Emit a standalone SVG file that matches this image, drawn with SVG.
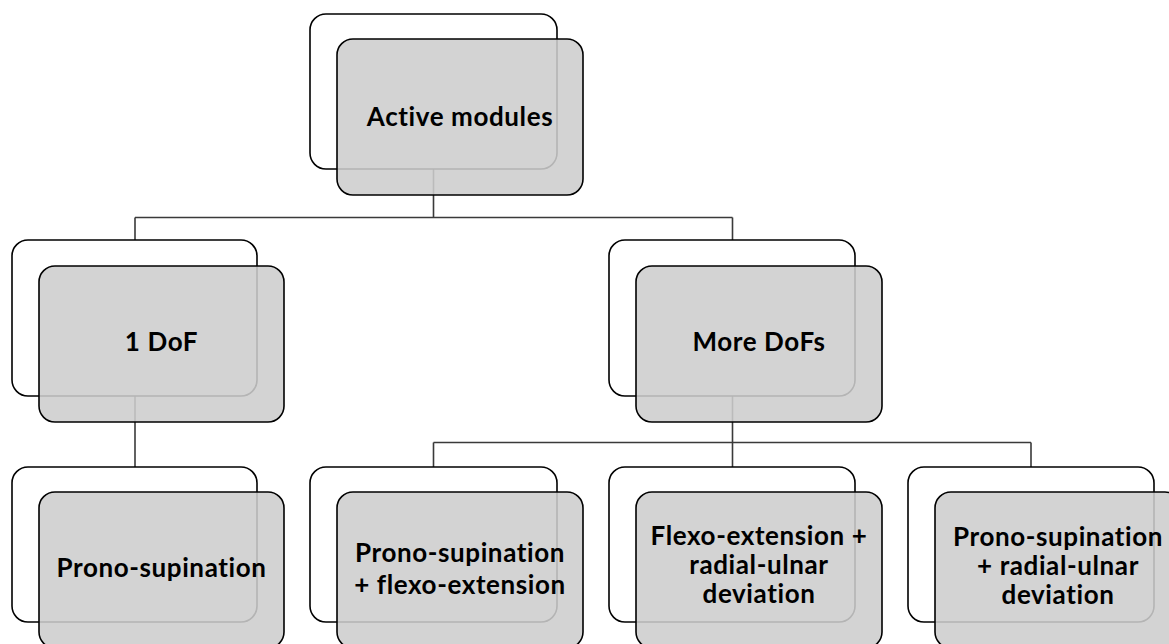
<svg xmlns="http://www.w3.org/2000/svg" width="1169" height="644" viewBox="0 0 1169 644">
<style>
.back{fill:#ffffff;stroke:#000000;stroke-width:1.6}
.front{fill:#cdcdcd;fill-opacity:0.88;stroke:#000000;stroke-width:1.6}
.conn{fill:none;stroke:#3a3a3a;stroke-width:1.6}
.lbl{font-family:Lato,"Liberation Sans",sans-serif;font-weight:bold;font-size:26px;letter-spacing:0.6px;fill:#000000;text-anchor:middle}
</style>
<rect width="1169" height="644" fill="#ffffff"/>
<g id="connectors">
<path class="conn" d="M433.5,169 V217.5 M135,217.5 H732.5 M135,217.5 V240 M732.5,217.5 V240"/>
<path class="conn" d="M135,396 V467"/>
<path class="conn" d="M732.5,396 V442.5 M433.5,442.5 H1031 M433.5,442.5 V467 M732.5,442.5 V467 M1031,442.5 V467"/>
</g>
<g id="node-active-modules">
<rect class="back" x="310" y="14" width="247" height="155" rx="16"/>
<rect class="front" x="337" y="39" width="246" height="156" rx="16"/>
<text class="lbl" x="460" y="126">Active modules</text>
</g>
<g id="node-1dof">
<rect class="back" x="12" y="240" width="245" height="156" rx="16"/>
<rect class="front" x="39" y="266" width="245" height="156" rx="16"/>
<text class="lbl" x="161.5" y="351">1 DoF</text>
</g>
<g id="node-more-dofs">
<rect class="back" x="609" y="240" width="246" height="156" rx="16"/>
<rect class="front" x="636" y="266" width="246" height="156" rx="16"/>
<text class="lbl" x="759" y="351">More DoFs</text>
</g>
<g id="node-prono-supination">
<rect class="back" x="12" y="467" width="245" height="155" rx="16"/>
<rect class="front" x="39" y="492" width="245" height="156" rx="16"/>
<text class="lbl" x="161.5" y="577">Prono-supination</text>
</g>
<g id="node-prono-flexo">
<rect class="back" x="310" y="467" width="247" height="155" rx="16"/>
<rect class="front" x="337" y="492" width="246" height="156" rx="16"/>
<text class="lbl" x="460" y="562">Prono-supination</text>
<text class="lbl" x="460" y="594">+ flexo-extension</text>
</g>
<g id="node-flexo-radial">
<rect class="back" x="609" y="467" width="246" height="155" rx="16"/>
<rect class="front" x="636" y="492" width="246" height="156" rx="16"/>
<text class="lbl" x="759" y="545">Flexo-extension +</text>
<text class="lbl" x="759" y="574">radial-ulnar</text>
<text class="lbl" x="759" y="603">deviation</text>
</g>
<g id="node-prono-radial">
<rect class="back" x="908" y="467" width="246" height="155" rx="16"/>
<rect class="front" x="935" y="492" width="246" height="156" rx="16"/>
<text class="lbl" x="1058" y="546">Prono-supination</text>
<text class="lbl" x="1058" y="575">+ radial-ulnar</text>
<text class="lbl" x="1058" y="604">deviation</text>
</g>
</svg>
